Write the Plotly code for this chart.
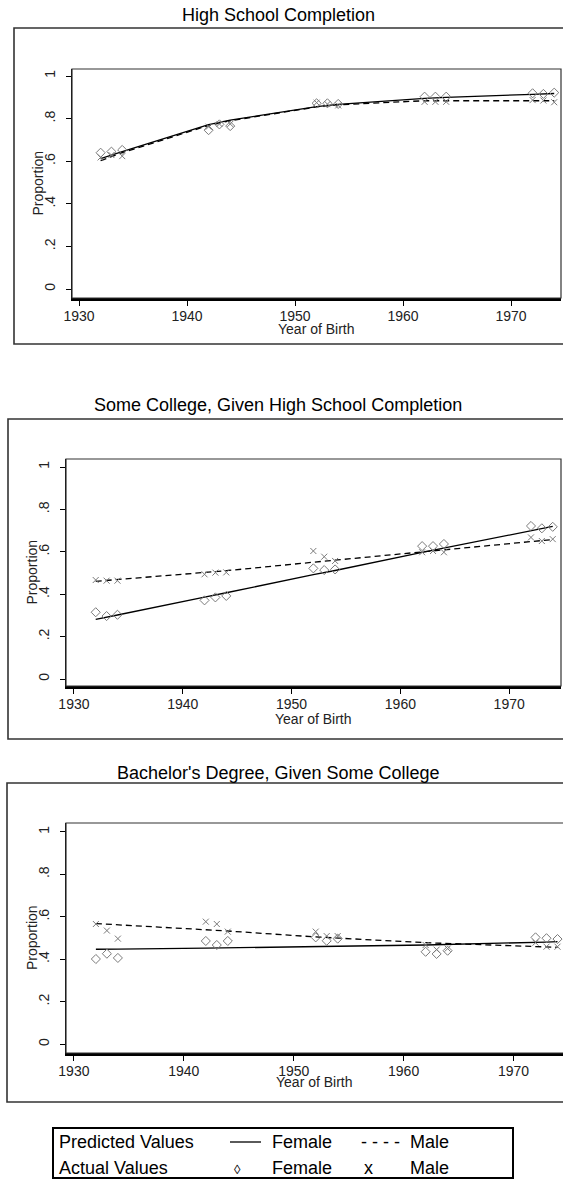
import plotly.graph_objects as go

# ---------------- data ----------------
years = [1932, 1933, 1934, 1942, 1943, 1944, 1952, 1953, 1954,
         1962, 1963, 1964, 1972, 1973, 1974]

panel_titles = ["High School Completion",
                "Some College, Given High School Completion",
                "Bachelor's Degree, Given Some College"]

# High School Completion
hs_pred_female = [0.612, 0.630, 0.645, 0.772, 0.783, 0.793, 0.856, 0.862, 0.867,
                  0.895, 0.898, 0.900, 0.914, 0.916, 0.918]
hs_pred_male = [0.603, 0.622, 0.640, 0.768, 0.780, 0.790, 0.855, 0.860, 0.865,
                0.884, 0.884, 0.884, 0.884, 0.884, 0.884]
hs_act_female = [0.640, 0.645, 0.653, 0.746, 0.773, 0.765, 0.872, 0.872, 0.869,
                 0.903, 0.903, 0.903, 0.919, 0.916, 0.922]
hs_act_male = [0.618, 0.629, 0.624, 0.762, 0.775, 0.775, 0.875, 0.868, 0.862,
               0.879, 0.879, 0.879, 0.887, 0.885, 0.877]

# Some College, Given High School Completion
sc_pred_female = [0.281, 0.292, 0.302, 0.386, 0.396, 0.407, 0.492, 0.502, 0.512,
                  0.597, 0.607, 0.617, 0.700, 0.710, 0.720]
sc_pred_male = [0.461, 0.465, 0.469, 0.502, 0.507, 0.511, 0.551, 0.556, 0.561,
                0.600, 0.605, 0.610, 0.649, 0.654, 0.658]
sc_act_female = [0.315, 0.297, 0.303, 0.371, 0.385, 0.392, 0.522, 0.514, 0.517,
                 0.627, 0.627, 0.637, 0.722, 0.711, 0.718]
sc_act_male = [0.467, 0.464, 0.464, 0.494, 0.502, 0.503, 0.604, 0.577, 0.557,
               0.598, 0.604, 0.598, 0.668, 0.651, 0.660]

# Bachelor's Degree, Given Some College
ba_pred_female = [0.447, 0.448, 0.448, 0.452, 0.453, 0.454, 0.459, 0.460, 0.461,
                  0.467, 0.468, 0.469, 0.480, 0.481, 0.483]
ba_pred_male = [0.568, 0.565, 0.562, 0.540, 0.536, 0.533, 0.505, 0.502, 0.499,
                0.478, 0.476, 0.474, 0.460, 0.458, 0.456]
ba_act_female = [0.401, 0.426, 0.406, 0.486, 0.467, 0.486, 0.503, 0.487, 0.497,
                 0.435, 0.425, 0.440, 0.503, 0.499, 0.495]
ba_act_male = [0.566, 0.535, 0.497, 0.577, 0.566, 0.530, 0.530, 0.509, 0.509,
               0.467, 0.445, 0.450, 0.478, 0.459, 0.459]

x_tick_vals = [1930, 1940, 1950, 1960, 1970]
y_tick_vals = [0, 0.2, 0.4, 0.6, 0.8, 1]
y_tick_text = ["0", ".2", ".4", ".6", ".8", "1"]

legend_row_labels = ["Predicted Values", "Actual Values"]
legend_female = "Female"
legend_male = "Male"
x_title = "Year of Birth"
y_title = "Proportion"

series = [
    (hs_pred_female, hs_pred_male, hs_act_female, hs_act_male),
    (sc_pred_female, sc_pred_male, sc_act_female, sc_act_male),
    (ba_pred_female, ba_pred_male, ba_act_female, ba_act_male),
]

# ---------------- layout geometry (pixels) ----------------
W, H = 563, 1180
FONT = "Liberation Sans, Arial, sans-serif"

geom = [
    dict(l=72, r=561, t=69, b=298, xr=[1929.35, 1974.63], yr=[-0.042, 1.033],
         box=(14, 28, 344), title_y=15, ytitle_x=38, xtitle_y=329),
    dict(l=66, r=561, t=459, b=686, xr=[1929.27, 1974.76], yr=[-0.033, 1.038],
         box=(8, 419, 739), title_y=405, ytitle_x=32, xtitle_y=719),
    dict(l=66, r=563, t=823, b=1053, xr=[1929.28, 1974.50], yr=[-0.042, 1.042],
         box=(7, 783, 1102), title_y=773, ytitle_x=32, xtitle_y=1082),
]


def px(x):
    return x / W


def py(y):
    return 1 - y / H


fig = go.Figure()
shapes = []
annotations = []
GRAY = "#7a7a7a"

for i, (g, s) in enumerate(zip(geom, series)):
    n = "" if i == 0 else str(i + 1)
    xa, ya = "x" + n, "y" + n
    pf, pm, af, am = s
    fig.add_trace(go.Scatter(x=years, y=pf, mode="lines", xaxis=xa, yaxis=ya,
                             line=dict(color="black", width=1.3), showlegend=False))
    fig.add_trace(go.Scatter(x=years, y=pm, mode="lines", xaxis=xa, yaxis=ya,
                             line=dict(color="black", width=1.3, dash="6px,4px"),
                             showlegend=False))
    fig.add_trace(go.Scatter(x=years, y=af, mode="markers", xaxis=xa, yaxis=ya,
                             marker=dict(symbol="diamond-open", size=7, color=GRAY,
                                         line=dict(width=1, color=GRAY)),
                             showlegend=False))
    fig.add_trace(go.Scatter(x=years, y=am, mode="markers", xaxis=xa, yaxis=ya,
                             marker=dict(symbol="x-thin-open", size=6, color=GRAY,
                                         line=dict(width=1, color=GRAY)),
                             showlegend=False))

    fig.layout["xaxis" + n] = dict(
        domain=[px(g["l"]), px(g["r"])], range=g["xr"], anchor=ya,
        automargin=False,
        tickvals=x_tick_vals, ticks="outside", ticklen=5, tickwidth=1,
        tickcolor="black", ticklabelstandoff=-2,
        showgrid=False, zeroline=False,
        showline=True, linecolor="black", linewidth=2.5,
        tickfont=dict(family=FONT, size=14, color="#222"),
    )
    fig.layout["yaxis" + n] = dict(
        domain=[py(g["b"]), py(g["t"])], range=g["yr"], anchor=xa,
        automargin=False,
        tickvals=y_tick_vals, ticktext=y_tick_text, tickangle=-90,
        ticks="outside", ticklen=5, tickwidth=1, tickcolor="black",
        ticklabelstandoff=5,
        showgrid=False, zeroline=False, showline=True, linecolor="black",
        linewidth=1.2, tickfont=dict(family=FONT, size=14, color="#222"),
    )
    # plot-area outline
    shapes.append(dict(type="rect", xref="paper", yref="paper",
                       x0=px(g["l"]), x1=px(g["r"] + (4 if i == 2 else 0)),
                       y0=py(g["b"]), y1=py(g["t"]),
                       line=dict(color="#333", width=1.2)))
    # outer frame (runs off the right edge, as in the reference)
    bl, bt, bb = g["box"]
    shapes.append(dict(type="rect", xref="paper", yref="paper",
                       x0=px(bl), x1=px(W + 10), y0=py(bb), y1=py(bt),
                       line=dict(color="#333", width=1.6)))
    annotations.append(dict(text=panel_titles[i], xref="paper", yref="paper",
                            x=px(278), y=py(g["title_y"]), showarrow=False,
                            xanchor="center", yanchor="middle",
                            font=dict(family=FONT, size=18, color="black")))
    annotations.append(dict(text=x_title, xref="paper", yref="paper",
                            x=px((g["l"] + g["r"]) / 2), y=py(g["xtitle_y"]),
                            showarrow=False, xanchor="center", yanchor="middle",
                            font=dict(family=FONT, size=14, color="#222")))
    annotations.append(dict(text=y_title, xref="paper", yref="paper",
                            x=px(g["ytitle_x"]), y=py((g["t"] + g["b"]) / 2),
                            showarrow=False, xanchor="center", yanchor="middle",
                            textangle=-90,
                            font=dict(family=FONT, size=14, color="#222")))

# ---------------- custom legend ----------------
shapes.append(dict(type="rect", xref="paper", yref="paper",
                   x0=px(53), x1=px(513), y0=py(1178), y1=py(1128),
                   line=dict(color="black", width=2)))
row_y = [1142, 1168]
for label, yy in zip(legend_row_labels, row_y):
    annotations.append(dict(text=label, xref="paper", yref="paper", x=px(57),
                            y=py(yy), xanchor="left", yanchor="middle",
                            showarrow=False,
                            font=dict(family=FONT, size=18, color="black")))
    for txt, xx in ((legend_female, 270), (legend_male, 408)):
        annotations.append(dict(text=txt, xref="paper", yref="paper", x=px(xx),
                                y=py(yy), xanchor="left", yanchor="middle",
                                showarrow=False,
                                font=dict(family=FONT, size=18, color="black")))
shapes.append(dict(type="line", xref="paper", yref="paper",
                   x0=px(230), x1=px(261), y0=py(1142), y1=py(1142),
                   line=dict(color="black", width=1.3)))
annotations.append(dict(text="- - - -", xref="paper", yref="paper", x=px(359),
                        y=py(1142), xanchor="left", yanchor="middle",
                        showarrow=False,
                        font=dict(family=FONT, size=18, color="black")))
annotations.append(dict(text="◊", xref="paper", yref="paper", x=px(237),
                        y=py(1169), xanchor="center", yanchor="middle",
                        showarrow=False,
                        font=dict(family=FONT, size=13, color="black")))
annotations.append(dict(text="x", xref="paper", yref="paper", x=px(368),
                        y=py(1168), xanchor="center", yanchor="middle",
                        showarrow=False,
                        font=dict(family=FONT, size=18, color="black")))

fig.update_layout(width=W, height=H, autosize=False,
                  margin=dict(l=0, r=0, t=0, b=0),
                  paper_bgcolor="white", plot_bgcolor="white",
                  shapes=shapes, annotations=annotations,
                  font=dict(family=FONT))

fig.write_html("out.html", config={"displayModeBar": False},
               post_script="document.body.style.margin='0';"
                           "document.body.style.overflow='hidden';")
